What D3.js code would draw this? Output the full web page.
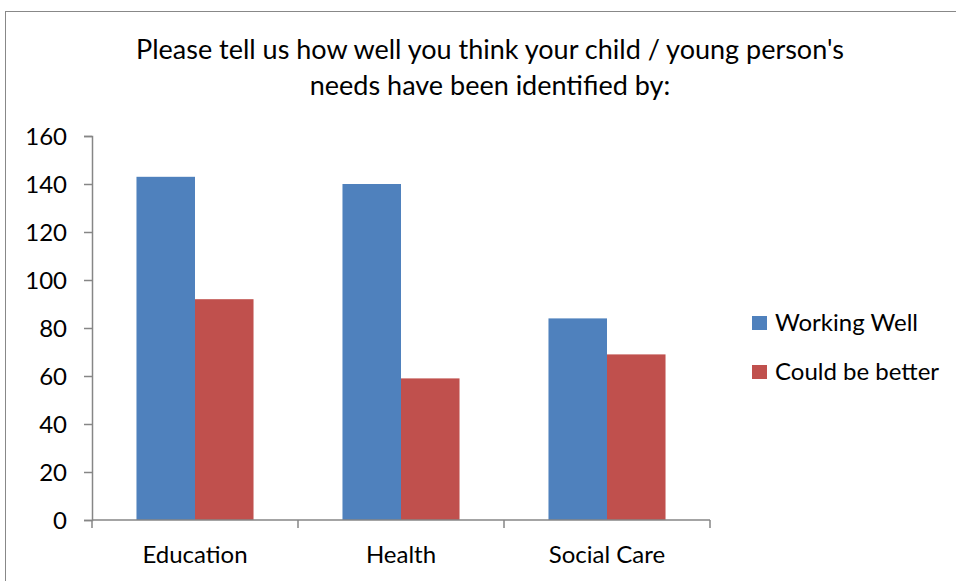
<!DOCTYPE html>
<html>
<head>
<meta charset="utf-8">
<script src="https://cdn.jsdelivr.net/npm/d3@7"></script>
<style>
  html, body { margin: 0; padding: 0; background: #fff; }
  svg { display: block; font-family: Lato, "Open Sans", sans-serif; }
</style>
</head>
<body>
<svg id="chart" width="956" height="581"></svg>
<script>
// Survey responses per service
const categories = ["Education", "Health", "Social Care"];
const seriesNames = ["Working Well", "Could be better"];
const workingWell = [143, 140, 84];
const couldBeBetter = [92, 59, 69];
const yTicks = [0, 20, 40, 60, 80, 100, 120, 140, 160];
const titleLines = [
  "Please tell us how well you think your child / young person's",
  "needs have been identified by:"
];
const colors = ["#4F81BD", "#C0504D"];

const svg = d3.select("#chart");
const W = 956, H = 581;

// Chart frame
svg.append("rect")
  .attr("x", 5.5).attr("y", 11.5)
  .attr("width", W).attr("height", H)
  .attr("fill", "#fff").attr("stroke", "#888").attr("stroke-width", 1);

// Title
svg.append("g").selectAll("text").data(titleLines).join("text")
  .attr("x", 490).attr("y", (d, i) => 59 + i * 36)
  .attr("text-anchor", "middle")
  .attr("font-size", 27)
  .attr("fill", "#000")
  .text(d => d);

const plot = { left: 92, right: 710, top: 136, bottom: 520 };

const x0 = d3.scaleBand().domain(categories).range([plot.left, plot.right]).padding(0);
const x1 = d3.scaleBand().domain(seriesNames).range([0, x0.bandwidth()])
  .paddingInner(0).paddingOuter(0.76);
const y = d3.scaleLinear().domain([0, 160]).range([plot.bottom, plot.top]);

const data = categories.map((c, i) => ({
  category: c,
  values: [
    { series: seriesNames[0], value: workingWell[i] },
    { series: seriesNames[1], value: couldBeBetter[i] }
  ]
}));

// Bars
svg.append("g").selectAll("g").data(data).join("g")
  .attr("transform", d => `translate(${x0(d.category)},0)`)
  .selectAll("rect").data(d => d.values).join("rect")
  .attr("x", d => x1(d.series))
  .attr("y", d => y(d.value))
  .attr("width", x1.bandwidth())
  .attr("height", d => y(0) - y(d.value))
  .attr("fill", (d, i) => colors[i]);

// Y axis
const yAxis = svg.append("g")
  .attr("transform", `translate(${plot.left},0)`)
  .call(d3.axisLeft(y).tickValues(yTicks).tickSize(8).tickPadding(17).tickFormat(d3.format("d")));
yAxis.select(".domain").attr("stroke", "#868686").attr("stroke-width", 1.5);
yAxis.selectAll(".tick line").attr("stroke", "#868686").attr("stroke-width", 1.5);
yAxis.selectAll(".tick text").attr("font-size", 24).attr("fill", "#000")
  .attr("dy", "0.34em")
  .attr("font-family", "Lato, sans-serif");

// X axis with boundary ticks between categories
const xAxis = svg.append("g").attr("transform", `translate(0,${plot.bottom})`);
xAxis.append("line")
  .attr("x1", plot.left).attr("x2", plot.right)
  .attr("stroke", "#868686").attr("stroke-width", 1.5);
const boundaries = categories.map(c => x0(c)).concat([x0(categories[categories.length - 1]) + x0.bandwidth()]);
xAxis.selectAll("line.tick").data(boundaries).join("line")
  .attr("class", "tick")
  .attr("x1", d => d).attr("x2", d => d)
  .attr("y1", 0).attr("y2", 8)
  .attr("stroke", "#868686").attr("stroke-width", 1.5);
xAxis.selectAll("text").data(categories).join("text")
  .attr("x", d => x0(d) + x0.bandwidth() / 2)
  .attr("y", 43)
  .attr("text-anchor", "middle")
  .attr("font-size", 24)
  .attr("fill", "#000")
  .text(d => d);

// Legend
const legend = svg.append("g").attr("transform", "translate(752,316)")
  .selectAll("g").data(seriesNames).join("g")
  .attr("transform", (d, i) => `translate(0,${i * 49})`);
legend.append("rect").attr("width", 15).attr("height", 14)
  .attr("fill", (d, i) => colors[i]);
legend.append("text").attr("x", 23).attr("y", 15)
  .attr("font-size", 24).attr("fill", "#000")
  .text(d => d);
</script>
</body>
</html>
